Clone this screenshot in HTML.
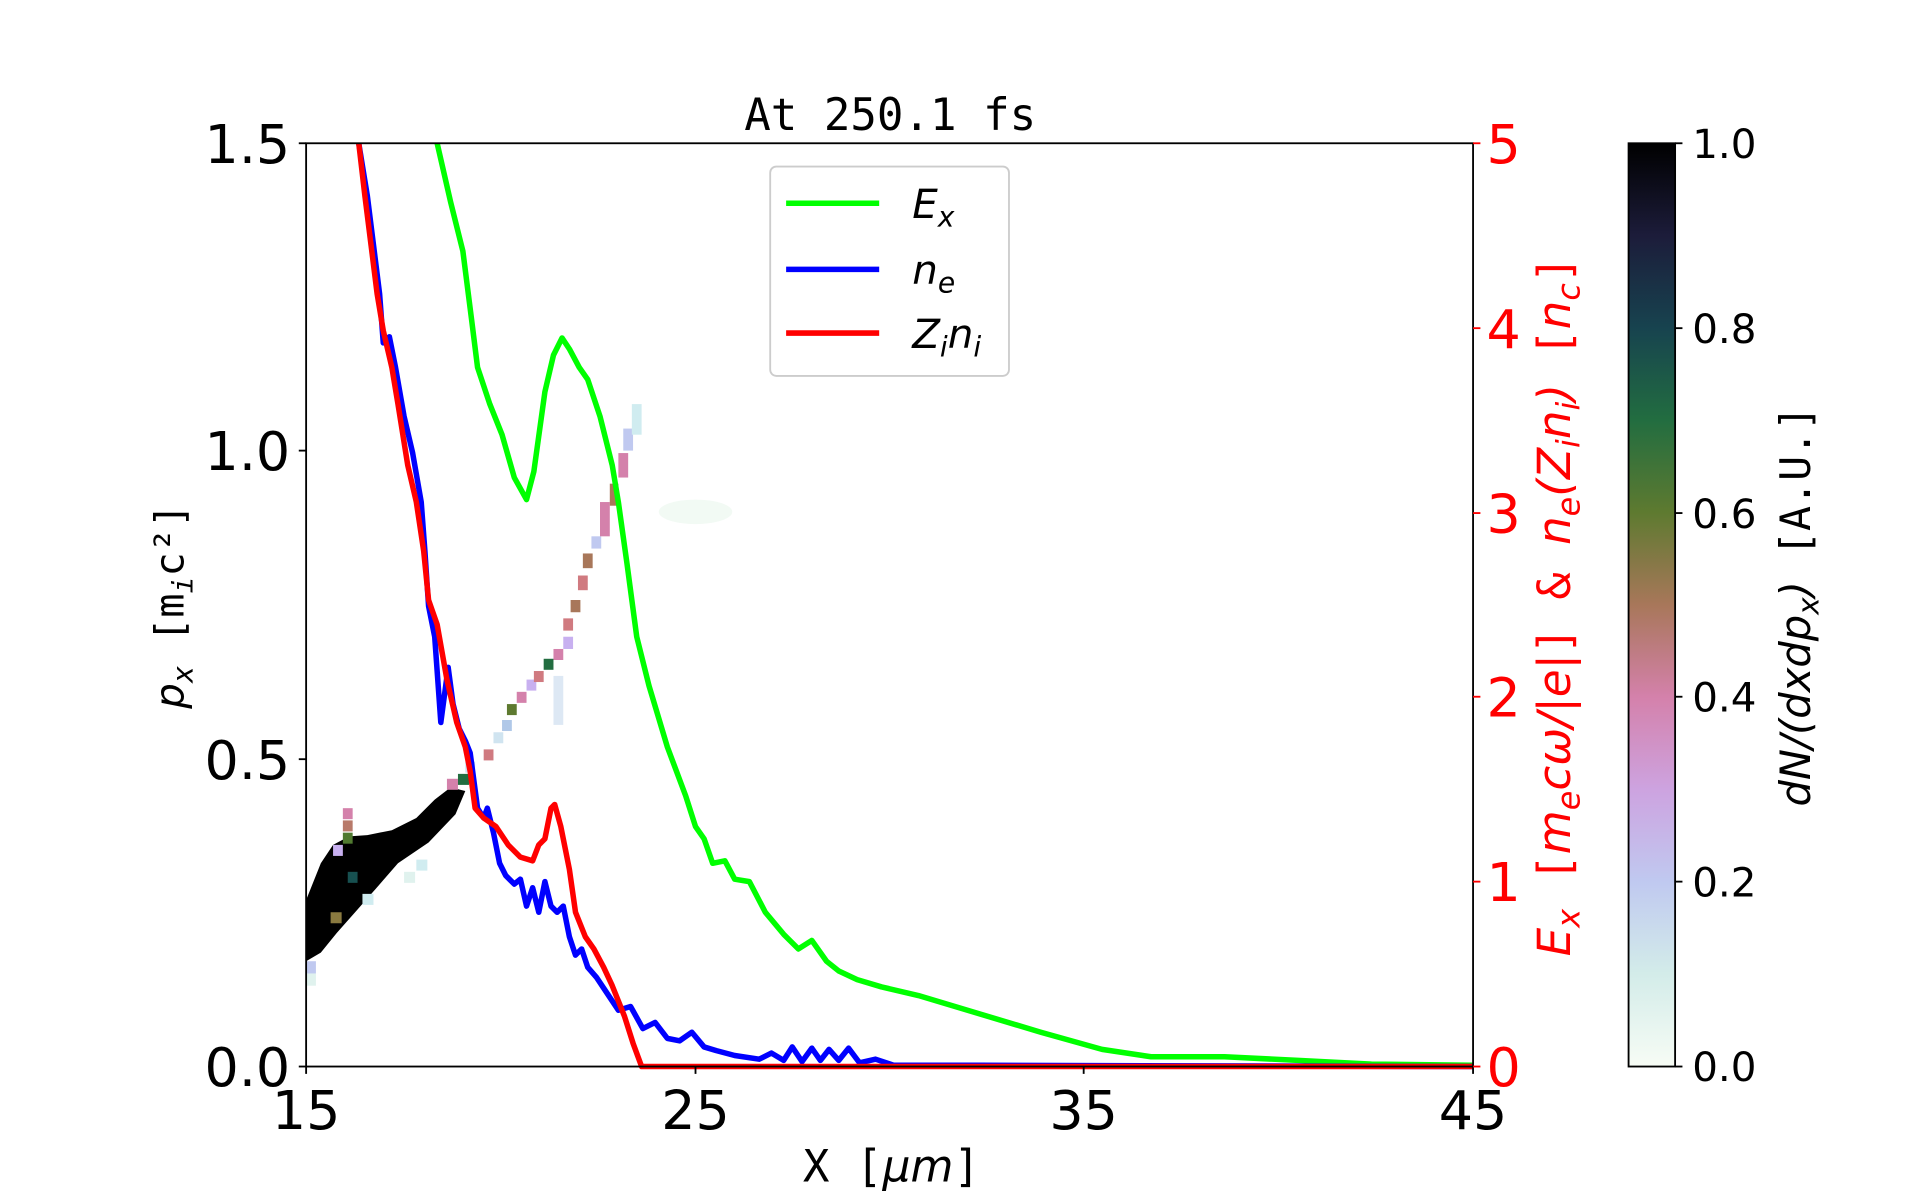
<!DOCTYPE html>
<html><head><meta charset="utf-8"><style>
html,body{margin:0;padding:0;background:#fff;}
svg{display:block;}
</style></head><body>
<svg width="1920" height="1200" viewBox="0 0 1568 980" preserveAspectRatio="none" xmlns="http://www.w3.org/2000/svg">
<rect width="1568" height="980" fill="#fff"/>
<defs>
<linearGradient id="cb" x1="0" y1="1" x2="0" y2="0">
<stop offset="0" stop-color="#f7fcf5"/>
<stop offset="0.1" stop-color="#d3ece9"/>
<stop offset="0.2" stop-color="#c0c9f0"/>
<stop offset="0.3" stop-color="#cda3e0"/>
<stop offset="0.4" stop-color="#d481ab"/>
<stop offset="0.5" stop-color="#a8775a"/>
<stop offset="0.6" stop-color="#5e7a30"/>
<stop offset="0.7" stop-color="#226d40"/>
<stop offset="0.8" stop-color="#17434f"/>
<stop offset="0.9" stop-color="#1c1c3a"/>
<stop offset="1" stop-color="#000"/>
</linearGradient>
</defs>
<g>
<polygon fill="#000" points="250,735 262,705 272,690 285,683 300,682 320,678 340,668 355,653 368,643 380,646 372,665 350,688 325,705 305,728 290,745 275,762 262,778 250,785"/>
<rect x="250" y="785" width="8" height="10" fill="#c0c9f0"/>
<rect x="250" y="795" width="8" height="10" fill="#e0f2ee"/>
<rect x="270" y="745" width="9" height="9" fill="#8a7a40"/>
<rect x="280" y="660" width="8" height="9" fill="#d481ab"/>
<rect x="280" y="670" width="8" height="9" fill="#b87a6a"/>
<rect x="280" y="680" width="8" height="9" fill="#507a30"/>
<rect x="272" y="690" width="8" height="9" fill="#c8b0f0"/>
<rect x="284" y="712" width="8" height="9" fill="#175050"/>
<rect x="296" y="730" width="9" height="9" fill="#d0ecf0"/>
<rect x="340" y="702" width="9" height="9" fill="#d0ecf0"/>
<rect x="330" y="712" width="9" height="9" fill="#e0f2ee"/>
<rect x="365" y="636" width="9" height="9" fill="#d481ab"/>
<rect x="374" y="632" width="9" height="9" fill="#226d40"/>
<rect x="380" y="622" width="8" height="9" fill="#c8e0f0"/>
<rect x="395" y="612" width="8" height="9" fill="#d07a80"/>
<rect x="403" y="598" width="8" height="9" fill="#d0e4f0"/>
<rect x="410" y="588" width="8" height="9" fill="#b0c8e8"/>
<rect x="414" y="575" width="8" height="9" fill="#5e7a30"/>
<rect x="422" y="565" width="8" height="9" fill="#d481ab"/>
<rect x="430" y="555" width="8" height="9" fill="#c8b0f0"/>
<rect x="436" y="548" width="8" height="9" fill="#d07a80"/>
<rect x="444" y="538" width="8" height="9" fill="#226d40"/>
<rect x="452" y="530" width="8" height="9" fill="#d481ab"/>
<rect x="452" y="552" width="8" height="40" fill="#dde8f4"/>
<rect x="460" y="520" width="8" height="10" fill="#c8b0f0"/>
<rect x="460" y="505" width="8" height="10" fill="#d07a80"/>
<rect x="466" y="490" width="8" height="10" fill="#a8775a"/>
<rect x="472" y="470" width="8" height="12" fill="#d07a80"/>
<rect x="476" y="452" width="8" height="12" fill="#a8775a"/>
<rect x="483" y="438" width="8" height="10" fill="#c0c9f0"/>
<rect x="490" y="410" width="8" height="28" fill="#d481ab"/>
<rect x="498" y="395" width="7" height="18" fill="#a8775a"/>
<rect x="505" y="370" width="8" height="20" fill="#d481ab"/>
<rect x="509" y="350" width="8" height="18" fill="#c0c9f0"/>
<rect x="516" y="330" width="8" height="25" fill="#d0ecf0"/>
<ellipse cx="568" cy="418" rx="30" ry="10" fill="#f2faf4"/>
</g>
<g fill="none" stroke-width="4.5" stroke-linejoin="round">
<polyline stroke="#00ff00" points="357,117 368,165 378,205 385,260 390,300 400,330 410,355 420,390 430,408 436,385 445,320 452,290 459,276 465,285 473,300 480,310 490,340 500,380 505,410 512,460 520,520 530,560 545,610 560,650 568,675 575,685 582,705 592,703 600,718 612,720 625,745 640,763 652,775 663,768 675,785 685,793 700,800 720,806 750,813 800,828 850,843 900,857 940,863 1000,863 1060,866 1120,869 1203,870"/>
<polyline stroke="#0000ff" points="293,117 300,160 305,200 310,240 313,280 318,275 323,300 330,340 337,370 344,410 347,450 350,495 355,520 360,590 366,545 370,575 375,595 380,605 384,615 390,660 395,668 398,660 403,680 408,705 413,715 420,722 425,718 430,740 435,725 440,745 445,720 450,740 455,745 460,740 465,765 470,780 475,775 480,790 487,798 495,810 505,825 515,822 525,840 535,835 545,848 555,850 565,843 575,855 585,858 600,862 620,865 630,860 640,866 647,855 655,867 663,856 670,866 677,857 685,866 693,856 702,868 715,865 730,870 800,870 1203,871"/>
<polyline stroke="#ff0000" points="293,117 298,160 303,200 308,240 313,270 320,300 325,330 333,380 340,410 346,450 350,490 357,510 365,555 373,590 380,610 384,630 388,660 395,668 405,675 415,690 425,700 435,703 440,690 445,685 450,660 453,657 458,675 465,710 470,745 478,765 485,775 493,790 500,805 510,830 517,852 524,871 1203,871"/>
</g>
<rect x="250" y="117" width="953" height="754" fill="none" stroke="#000" stroke-width="1.5"/>
<g stroke="#000" stroke-width="1.5">
<line x1="244" y1="117" x2="250" y2="117"/><line x1="244" y1="368" x2="250" y2="368"/><line x1="244" y1="620" x2="250" y2="620"/><line x1="244" y1="871" x2="250" y2="871"/>
<line x1="250" y1="871" x2="250" y2="877"/><line x1="568" y1="871" x2="568" y2="877"/><line x1="885" y1="871" x2="885" y2="877"/><line x1="1203" y1="871" x2="1203" y2="877"/>
</g>
<g stroke="#f00" stroke-width="1.5">
<line x1="1203" y1="117" x2="1209" y2="117"/><line x1="1203" y1="268" x2="1209" y2="268"/><line x1="1203" y1="419" x2="1209" y2="419"/><line x1="1203" y1="569" x2="1209" y2="569"/><line x1="1203" y1="720" x2="1209" y2="720"/><line x1="1203" y1="871" x2="1209" y2="871"/>
</g>
<g font-family="DejaVu Sans, Liberation Sans, sans-serif" font-size="44" fill="#000">
<text x="237" y="133" text-anchor="end">1.5</text>
<text x="237" y="384" text-anchor="end">1.0</text>
<text x="237" y="636" text-anchor="end">0.5</text>
<text x="237" y="887" text-anchor="end">0.0</text>
<text x="250" y="922" text-anchor="middle">15</text>
<text x="568" y="922" text-anchor="middle">25</text>
<text x="885" y="922" text-anchor="middle">35</text>
<text x="1203" y="922" text-anchor="middle">45</text>
</g>
<g font-family="DejaVu Sans, Liberation Sans, sans-serif" font-size="44" fill="#f00">
<text x="1214" y="133">5</text><text x="1214" y="284">4</text><text x="1214" y="435">3</text><text x="1214" y="585">2</text><text x="1214" y="736">1</text><text x="1214" y="887">0</text>
</g>
<text x="727" y="106" text-anchor="middle" font-family="DejaVu Sans Mono, Liberation Mono, monospace" font-size="36">At 250.1 fs</text>
<text x="728" y="965" text-anchor="middle" font-family="DejaVu Sans Mono, Liberation Mono, monospace" font-size="36">X [<tspan font-style="italic" font-family="DejaVu Sans">μm</tspan>]</text>
<text transform="translate(150,495) rotate(-90)" text-anchor="middle" font-family="DejaVu Sans Mono, monospace" font-size="33"><tspan font-style="italic" font-family="DejaVu Sans">p<tspan font-size="23" dy="7">x</tspan></tspan><tspan dy="-7"> [m</tspan><tspan font-size="23" dy="7" font-style="italic">i</tspan><tspan dy="-7">c²]</tspan></text>
<text transform="translate(1282,495) rotate(-90)" text-anchor="middle" font-family="DejaVu Sans, sans-serif" font-size="37" fill="#f00" font-style="italic">E<tspan font-size="26" dy="8">x</tspan><tspan dy="-8" font-style="normal" font-family="DejaVu Sans Mono"> [</tspan>m<tspan font-size="26" dy="8">e</tspan><tspan dy="-8">cω/|e|</tspan><tspan font-style="normal" font-family="DejaVu Sans Mono">] &amp; </tspan>n<tspan font-size="26" dy="8">e</tspan><tspan dy="-8">(Z</tspan><tspan font-size="26" dy="8">i</tspan><tspan dy="-8">n</tspan><tspan font-size="26" dy="8">i</tspan><tspan dy="-8">)</tspan><tspan font-style="normal" font-family="DejaVu Sans Mono">  [</tspan>n<tspan font-size="26" dy="8">c</tspan><tspan dy="-8" font-style="normal" font-family="DejaVu Sans Mono">]</tspan></text>
<rect x="629" y="136" width="195" height="171" rx="5" fill="#fff" stroke="#ccc" stroke-width="1.5"/>
<g stroke-width="4.5">
<line x1="642" y1="166" x2="718" y2="166" stroke="#00ff00"/>
<line x1="642" y1="220" x2="718" y2="220" stroke="#0000ff"/>
<line x1="642" y1="272" x2="718" y2="272" stroke="#ff0000"/>
</g>
<g font-family="DejaVu Sans, sans-serif" font-size="33" font-style="italic">
<text x="745" y="178">E<tspan font-size="23" dy="7">x</tspan></text>
<text x="745" y="232">n<tspan font-size="23" dy="7">e</tspan></text>
<text x="745" y="284">Z<tspan font-size="23" dy="7">i</tspan><tspan dy="-7">n</tspan><tspan font-size="23" dy="7">i</tspan></text>
</g>
<rect x="1330" y="117" width="38" height="754" fill="url(#cb)" stroke="#000" stroke-width="1.5"/>
<g stroke="#000" stroke-width="1.5">
<line x1="1368" y1="117" x2="1374" y2="117"/><line x1="1368" y1="268" x2="1374" y2="268"/><line x1="1368" y1="419" x2="1374" y2="419"/><line x1="1368" y1="569" x2="1374" y2="569"/><line x1="1368" y1="720" x2="1374" y2="720"/><line x1="1368" y1="871" x2="1374" y2="871"/>
</g>
<g font-family="DejaVu Sans, sans-serif" font-size="33" fill="#000">
<text x="1382" y="129">1.0</text><text x="1382" y="280">0.8</text><text x="1382" y="431">0.6</text><text x="1382" y="581">0.4</text><text x="1382" y="732">0.2</text><text x="1382" y="883">0.0</text>
</g>
<text transform="translate(1478,495) rotate(-90)" text-anchor="middle" font-family="DejaVu Sans, sans-serif" font-size="34" font-style="italic">dN/(dxdp<tspan font-size="24" dy="7">x</tspan><tspan dy="-7">)</tspan><tspan font-style="normal" font-family="DejaVu Sans Mono">  [A.U.]</tspan></text>
</svg>
</body></html>
